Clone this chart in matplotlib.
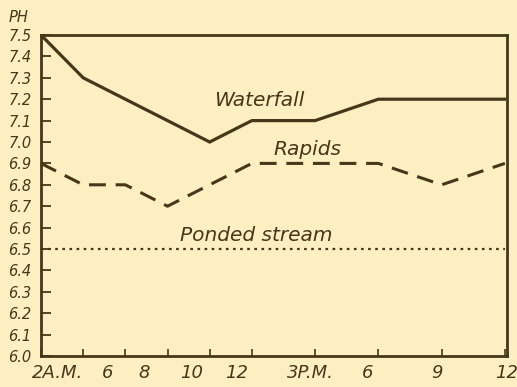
import matplotlib
matplotlib.use("Agg")
import matplotlib.pyplot as plt

# Hours of the day (2 A.M. to midnight) at which pH was read
hours = [2, 4, 6, 8, 10, 12, 15, 18, 21, 24]
waterfall = [7.5, 7.3, 7.2, 7.1, 7.0, 7.1, 7.1, 7.2, 7.2, 7.2]
rapids = [6.9, 6.8, 6.8, 6.7, 6.8, 6.9, 6.9, 6.9, 6.8, 6.9]
ponded = [6.5, 6.5, 6.5, 6.5, 6.5, 6.5, 6.5, 6.5, 6.5, 6.5]

time_labels = ["2A.M.", "6", "8", "10", "12", "3P.M.", "6", "9", "12"]
y_ticks = [6.0, 6.1, 6.2, 6.3, 6.4, 6.5, 6.6, 6.7, 6.8, 6.9,
           7.0, 7.1, 7.2, 7.3, 7.4, 7.5]

# hand-lettered label placement along the time axis (hours)
label_at = [2.8, 5.16, 6.91, 9.13, 11.3, 14.8, 17.5, 20.76, 24.1]

INK = "#45371a"
PAPER = "#fcf0c2"
FONT = "DejaVu Sans"

fig = plt.figure(figsize=(5.17, 3.87), dpi=100, facecolor=PAPER)
ax = fig.add_axes([41 / 517, 1 - 356 / 387, 466 / 517, 321 / 387])
ax.set_facecolor(PAPER)

ax.plot(hours, waterfall, color=INK, lw=2.3, solid_joinstyle="miter")
ax.plot(hours, rapids, color=INK, lw=2.2, dashes=(5.5, 3.2))
ax.plot(hours, ponded, color=INK, lw=1.6, dashes=(1.2, 2.0))

ax.set_xlim(2, 24)
ax.set_ylim(6.0, 7.5)

for s in ax.spines.values():
    s.set_color(INK)
    s.set_linewidth(2.0)

# tick marks point inward; time labels sit where they were lettered
ax.set_xticks(hours)
ax.set_xticklabels([])
ax.set_xticks(label_at, time_labels, minor=True)
ax.tick_params(axis="x", which="major", direction="in", length=5,
               width=1.2, color=INK)
ax.tick_params(axis="x", which="minor", length=0, pad=6)
ax.set_yticks(y_ticks, [f"{v:.1f}" for v in y_ticks])
ax.tick_params(axis="y", direction="in", length=7, width=1.3,
               color=INK, pad=7)

for lab in ax.get_xticklabels(minor=True):
    lab.set_fontfamily(FONT)
    lab.set_fontstyle("oblique")
    lab.set_fontsize(13)
    lab.set_color(INK)
for lab in ax.get_yticklabels():
    lab.set_fontfamily(FONT)
    lab.set_fontstyle("oblique")
    lab.set_fontsize(10.5)
    lab.set_color(INK)

txt = dict(color=INK, fontfamily=FONT, fontstyle="oblique",
           ha="center", va="center")
ax.text(12.35, 7.195, "Waterfall", fontsize=14.5, **txt)
ax.text(14.65, 6.965, "Rapids", fontsize=14.5, **txt)
ax.text(12.2, 6.565, "Ponded stream", fontsize=14.5, **txt)

fig.text(19 / 517, 1 - 17 / 387, "PH", fontsize=10.5, **txt)

fig.savefig("out.png", dpi=100, facecolor=PAPER)
